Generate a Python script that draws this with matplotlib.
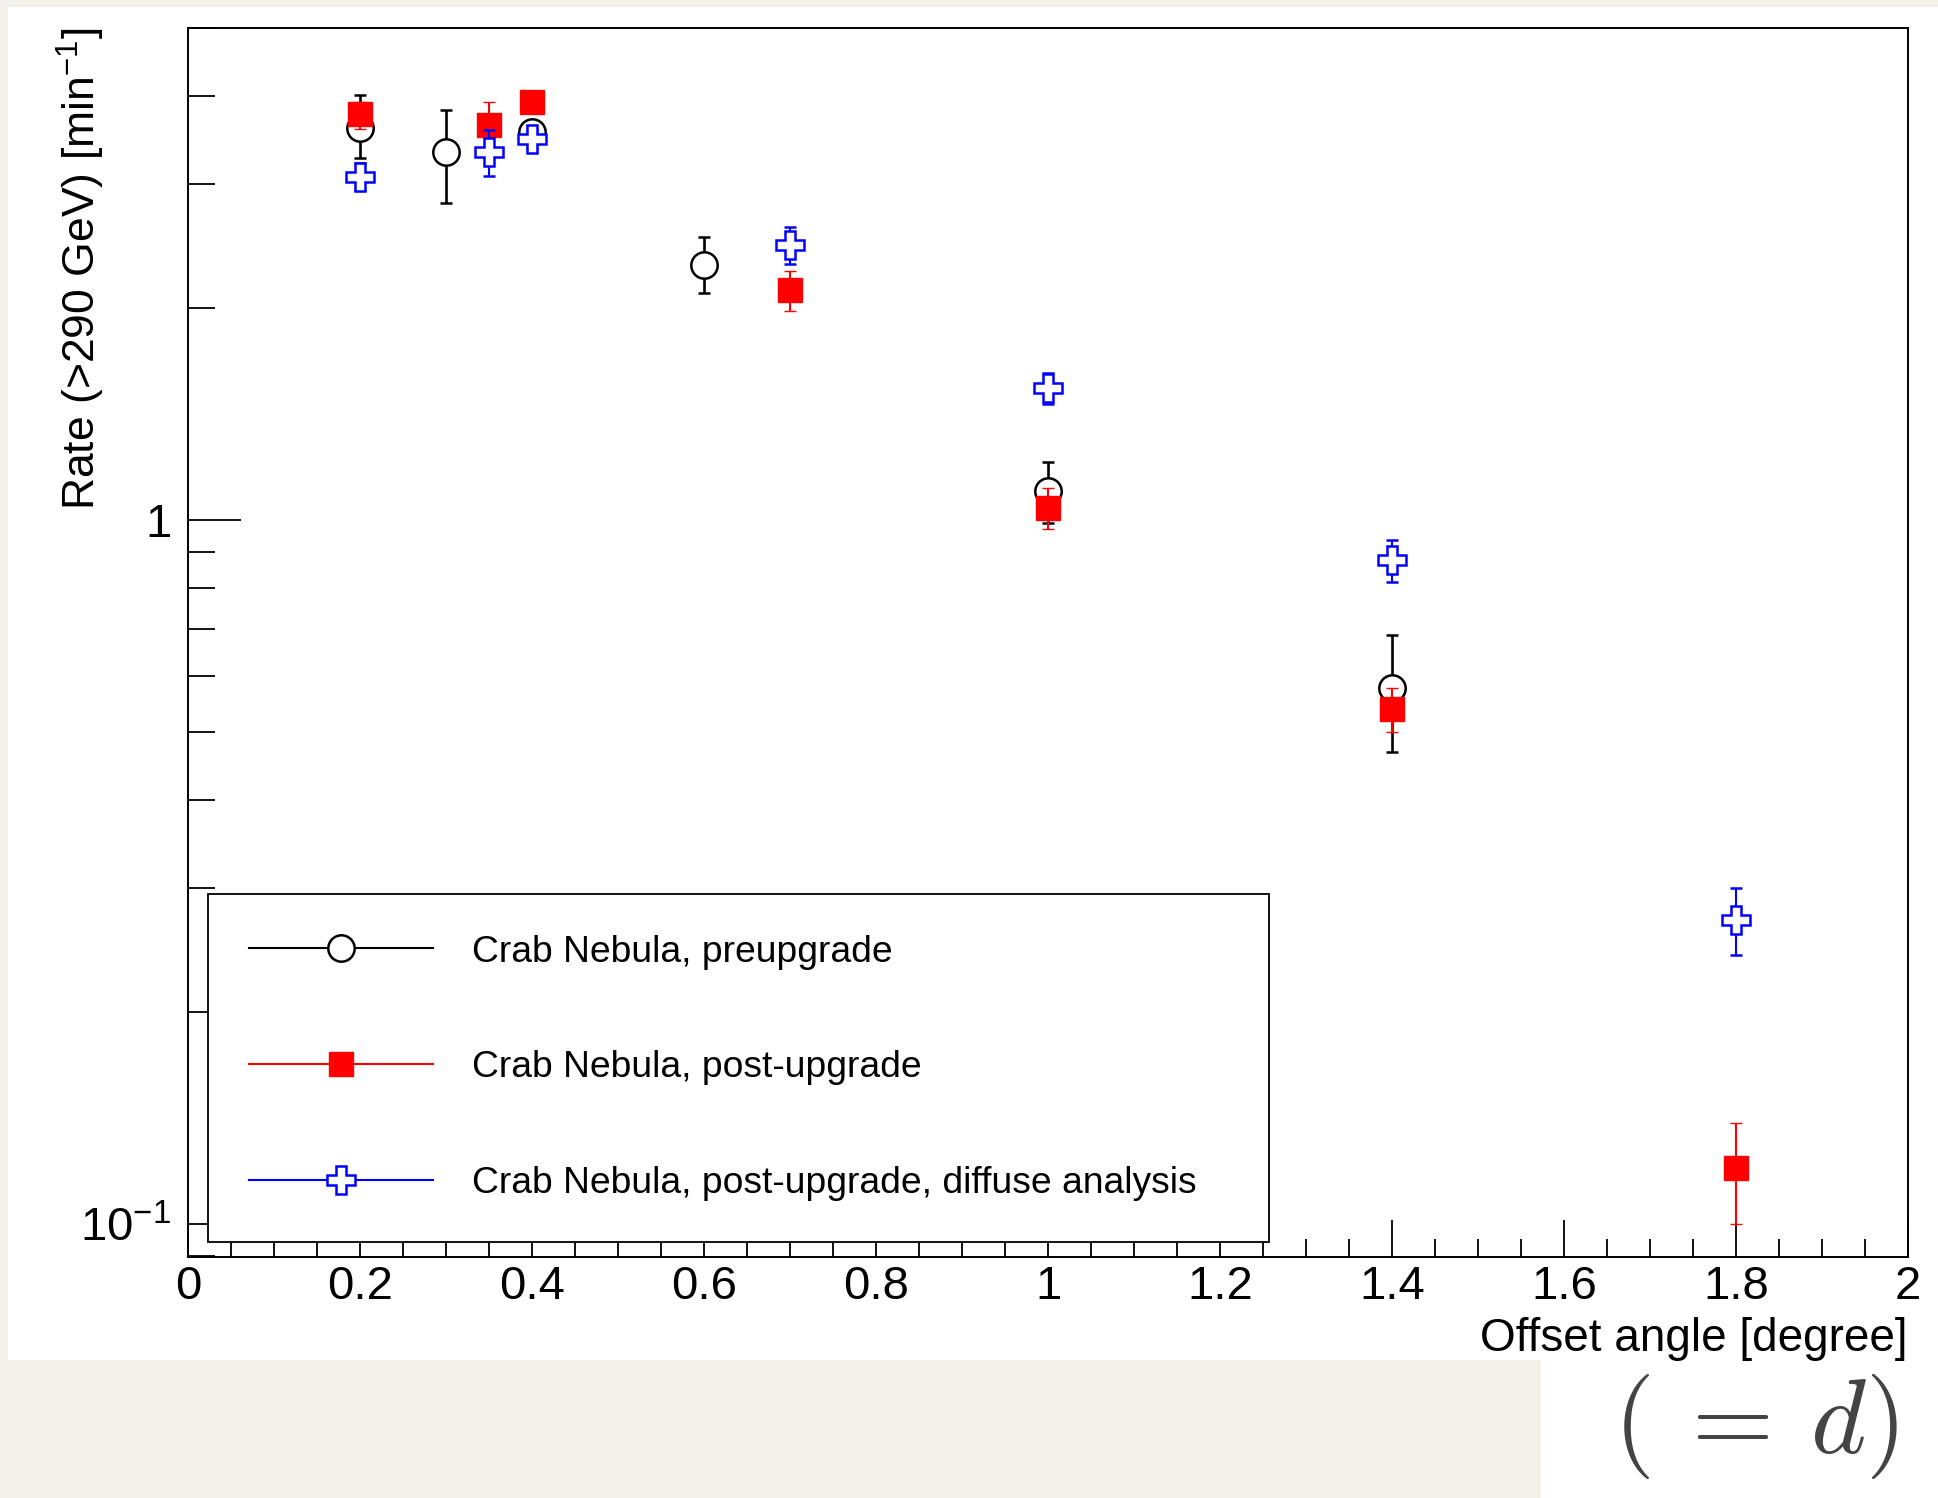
import numpy as np
import matplotlib
matplotlib.use('Agg')
import matplotlib.pyplot as plt
from matplotlib.lines import Line2D
from matplotlib.patches import Rectangle
from matplotlib.ticker import MultipleLocator, LogLocator, FuncFormatter, NullFormatter, FormatStrFormatter

plt.rcParams['font.family'] = ['Liberation Sans', 'DejaVu Sans']
plt.rcParams['mathtext.fontset'] = 'custom'
plt.rcParams['mathtext.rm'] = 'Liberation Sans'
plt.rcParams['mathtext.it'] = 'Liberation Sans:italic'

# Crab Nebula, preupgrade
x_pre = [0.2, 0.3, 0.4, 0.6, 1.0, 1.4]
y_pre = [3.61, 3.33, 3.56, 2.30, 1.10, 0.578]
pre_lo = [0.34, 0.51, 0.12, 0.20, 0.11, 0.109]
pre_hi = [0.40, 0.49, 0.12, 0.22, 0.11, 0.109]

# Crab Nebula, post-upgrade
x_post = [0.2, 0.35, 0.4, 0.7, 1.0, 1.4, 1.8]
y_post = [3.77, 3.64, 3.92, 2.12, 1.04, 0.539, 0.120]
post_lo = [0.18, 0.28, 0.10, 0.14, 0.07, 0.039, 0.020]
post_hi = [0.16, 0.29, 0.10, 0.14, 0.07, 0.039, 0.019]

# Crab Nebula, post-upgrade, diffuse analysis
x_dif = [0.2, 0.35, 0.4, 0.7, 1.0, 1.4, 1.8]
y_dif = [3.07, 3.33, 3.48, 2.46, 1.54, 0.877, 0.270]
dif_lo = [0.13, 0.25, 0.10, 0.15, 0.08, 0.059, 0.029]
dif_hi = [0.15, 0.25, 0.10, 0.15, 0.08, 0.060, 0.030]

labels = ['Crab Nebula, preupgrade',
          'Crab Nebula, post-upgrade',
          'Crab Nebula, post-upgrade, diffuse analysis']

W, H = 1938, 1498
fig = plt.figure(figsize=(W / 100, H / 100), dpi=100)
beige = '#f3f0ea'
fig.patch.set_facecolor(beige)
# white page areas
fig.add_artist(Rectangle((8 / W, 1 - 1360 / H), 1 - 8 / W, (1360 - 7) / H,
                         transform=fig.transFigure, facecolor='white', edgecolor='none', zorder=-10))
fig.add_artist(Rectangle((1541 / W, 0), 1 - 1541 / W, 1 - 1350 / H,
                         transform=fig.transFigure, facecolor='white', edgecolor='none', zorder=-10))

ax = fig.add_axes([188 / W, 1 - 1257 / H, (1908 - 188) / W, (1257 - 28) / H])
ax.set_yscale('log')

ebkw = dict(capsize=4.5, linestyle='none')
ax.errorbar(x_pre, y_pre, yerr=[pre_lo, pre_hi], fmt='o', color='black', ms=19,
            mfc='white', mec='black', mew=1.8, elinewidth=1.9, capthick=1.9, zorder=2, **ebkw)
ax.errorbar(x_post, y_post, yerr=[post_lo, post_hi], fmt='s', color='red', ms=17.5,
            mfc='red', mec='red', mew=1, elinewidth=1.5, capthick=1.5, zorder=3, **ebkw)
ax.errorbar(x_dif, y_dif, yerr=[dif_lo, dif_hi], fmt='P', color='blue', ms=19.5,
            mfc='white', mec='blue', mew=1.8, elinewidth=1.5, capthick=1.5, zorder=4, **ebkw)

ax.set_xlim(0, 2)
ax.set_ylim(0.0898, 5.0)

ax.xaxis.set_major_locator(MultipleLocator(0.2))
ax.xaxis.set_minor_locator(MultipleLocator(0.05))
ax.xaxis.set_major_formatter(FormatStrFormatter('%g'))
ax.yaxis.set_major_locator(LogLocator(base=10, numticks=10))
ax.yaxis.set_minor_locator(LogLocator(base=10, subs=np.arange(2, 10), numticks=20))
ax.yaxis.set_minor_formatter(NullFormatter())
ax.yaxis.set_major_formatter(FuncFormatter(
    lambda v, p: '1' if abs(v - 1) < 1e-9 else r'$10^{%d}$' % round(np.log10(v))))

ax.tick_params(which='both', direction='in', top=False, right=False, width=1.3, colors='black')
ax.xaxis.set_tick_params(which='major', length=26.5, pad=6, labelsize=34)
ax.xaxis.set_tick_params(which='minor', length=13)
ax.yaxis.set_tick_params(which='major', length=38, pad=12, labelsize=34)
ax.yaxis.set_tick_params(which='minor', length=19.5)
for s in ax.spines.values():
    s.set_linewidth(1.4)

ax.set_xlabel('Offset angle [degree]', fontsize=33, loc='right')
ax.xaxis.set_label_coords(1.0, -0.049)
ax.set_ylabel(r'Rate (>290 GeV) [min$^{-1}$]', fontsize=32, loc='top')
ax.yaxis.set_label_coords(-0.047, 1.0)

handles = [
    Line2D([], [], color='black', lw=1.5, marker='o', ms=19, mfc='white', mec='black', mew=1.8),
    Line2D([], [], color='red', lw=1.5, marker='s', ms=17.5, mfc='red', mec='red', mew=1),
    Line2D([], [], color='blue', lw=1.5, marker='P', ms=19.5, mfc='white', mec='blue', mew=1.8),
]
leg = ax.legend(handles, labels, loc='lower left', mode='expand',
                bbox_to_anchor=(0.01145, 0.0122, 0.6173, 0.2837), borderaxespad=0,
                fontsize=26.8, handlelength=4.95, handletextpad=1.05, borderpad=1.1,
                labelspacing=2.17, fancybox=False, framealpha=1, edgecolor='black')
leg.get_frame().set_linewidth(1.3)
leg.set_zorder(5)

fig.text(0.9055, 0.030, r'$(\hspace{0.2}=\hspace{0.2}d)$', fontsize=76, math_fontfamily='cm',
         color='#444444', ha='center', va='baseline')

fig.savefig('out.png', dpi=100, facecolor=fig.get_facecolor())
